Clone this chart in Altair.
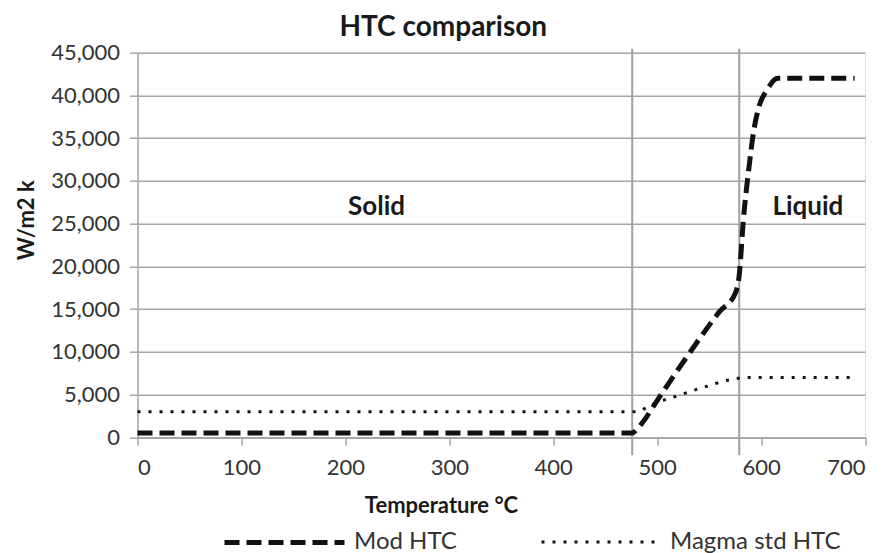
import altair as alt
import pandas as pd

# Heat transfer coefficient vs temperature for two models
mod_temp = [0, 476, 481, 487, 500, 520, 540, 560, 575, 579, 583, 588, 593, 598, 606, 616, 690]
mod_htc = [500, 500, 1000, 1900, 4300, 7900, 11400, 14700, 16800, 19000, 25500, 31200, 35900,
           38700, 40700, 42000, 42000]

magma_temp = [0, 481, 490, 503, 509, 538, 573, 584, 690]
magma_htc = [3000, 3000, 3500, 4250, 4450, 5600, 6800, 7000, 7000]

series_names = ["Mod HTC", "Magma std HTC"]

# Solidus / liquidus markers and region labels
phase_temps = [476, 579]
region_labels = ["Solid", "Liquid"]
region_temp = [230, 645]
region_htc = [27000, 27000]

x_ticks = [0, 100, 200, 300, 400, 500, 600, 700]
y_ticks = [0, 5000, 10000, 15000, 20000, 25000, 30000, 35000, 40000, 45000]

FONT = "Lato"
GRID = "#a6a6a6"
W, H = 727.5, 384.6

curves = pd.concat([
    pd.DataFrame({"temp": mod_temp, "htc": mod_htc, "series": series_names[0]}),
    pd.DataFrame({"temp": magma_temp, "htc": magma_htc, "series": series_names[1]}),
])
phases = pd.DataFrame({"temp": phase_temps})
regions = pd.DataFrame({"label": region_labels, "temp": region_temp, "htc": region_htc})

x_scale = alt.Scale(domain=[0, 700], nice=False)
y_scale = alt.Scale(domain=[0, 45000], nice=False)

x_axis = alt.Axis(
    values=x_ticks, title="Temperature °C", grid=False,
    titleX=303.5, titleY=75, titleBaseline="alphabetic", titleAnchor=None,
    titleFont=FONT, titleFontSize=22, titleFontWeight="bold", titleColor="#1a1a1a",
    labelFont=FONT, labelFontSize=22, labelColor="#333333", labelPadding=12,
    tickSize=8, tickColor=GRID, tickWidth=1.5, domainColor=GRID, domainWidth=1.5,
)
y_axis = alt.Axis(
    values=y_ticks, format=",d", title="W/m2 k", grid=True, gridColor=GRID, gridWidth=1.5,
    titleX=-104.5, titleY=167, titleAngle=270, titleBaseline="alphabetic", titleAlign="center",
    titleFont=FONT, titleFontSize=22, titleFontWeight="bold", titleColor="#1a1a1a",
    labelFont=FONT, labelFontSize=22, labelColor="#333333", labelPadding=10,
    tickSize=8, tickColor=GRID, tickWidth=1.5, domainColor=GRID, domainWidth=1.5,
)

# Shared legend: a long horizontal stroke sample per series (custom path wider than the
# symbol box, so entries stay one text line tall), laid out in one row under the axis
legend = alt.Legend(
    title=None, orient="none", legendX=132.5, legendY=475, direction="horizontal",
    symbolType="M-5,0H5", symbolSize=576, symbolStrokeColor="#111111",
    labelFont=FONT, labelFontSize=24, labelColor="#333333", labelOffset=55, labelLimit=300,
    columnPadding=78,
)

lines = alt.Chart(curves).mark_line(interpolate="monotone", color="#111111", strokeCap="butt").encode(
    x=alt.X("temp:Q", scale=x_scale, axis=x_axis),
    y=alt.Y("htc:Q", scale=y_scale, axis=y_axis),
    strokeDash=alt.StrokeDash(
        "series:N",
        scale=alt.Scale(domain=series_names, range=[[15, 7], [3, 8]]),
        legend=legend,
    ),
    strokeWidth=alt.StrokeWidth(
        "series:N",
        scale=alt.Scale(domain=series_names, range=[5, 3]),
        legend=legend,
    ),
    order=alt.Order("temp:Q"),
)

rules = alt.Chart(phases).mark_rule(color="#a0a0a0", strokeWidth=2).encode(
    x=alt.X("temp:Q", scale=x_scale),
    y=alt.value(-4),
    y2=alt.value(H + 18),
)

labels = alt.Chart(regions).mark_text(
    font=FONT, fontSize=26, fontWeight="bold", color="#1a1a1a", baseline="middle", align="center"
).encode(
    x=alt.X("temp:Q", scale=x_scale),
    y=alt.Y("htc:Q", scale=y_scale),
    text="label:N",
)

chart = alt.layer(rules, lines, labels).properties(
    width=W,
    height=H,
    title=alt.TitleParams(
        "HTC comparison", font=FONT, fontSize=28, fontWeight="bold", color="#1a1a1a",
        anchor="middle", dx=-58, dy=14, offset=14,
    ),
    autosize=alt.AutoSizeParams(type="none"),
    padding={"left": 137.5, "top": 52.7, "right": 18, "bottom": 115.7},
).configure_view(stroke=None).configure(background="white")

chart.save("out.html", embed_options={"renderer": "svg", "actions": False})
